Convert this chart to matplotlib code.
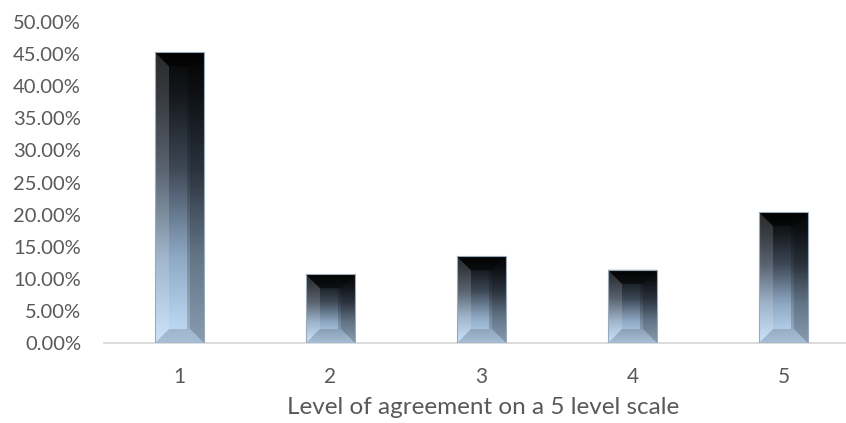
import numpy as np
import matplotlib
matplotlib.use("Agg")
import matplotlib.pyplot as plt
from matplotlib.colors import LinearSegmentedColormap
from matplotlib.patches import Rectangle, Polygon
from matplotlib.ticker import PercentFormatter

categories = ["1", "2", "3", "4", "5"]
shares = [45.3, 10.7, 13.5, 11.4, 20.4]  # percent of respondents

TEXT_COLOR = "#595959"
plt.rcParams["font.family"] = ["Lato", "DejaVu Sans"]

W, H, DPI = 846, 423, 100
fig = plt.figure(figsize=(W / DPI, H / DPI), dpi=DPI)

# axes box in pixels: left edge, bottom, right, top
left_px, right_px = 104, 846
top_px, bottom_px = 22, 343
ax = fig.add_axes([left_px / W, 1 - bottom_px / H,
                   (right_px - left_px) / W, (bottom_px - top_px) / H])

x_lo = 0.5
x_hi = x_lo + (right_px - left_px) / 151.0
y_lo, y_hi = 0, 50

px_x = (x_hi - x_lo) / (right_px - left_px)  # data units per pixel
px_y = (y_hi - y_lo) / (bottom_px - top_px)

grad_cmap = LinearSegmentedColormap.from_list(
    "bevel", [(0.0, "#c4e0fb"), (0.3, "#8ea8c2"), (0.6, "#3d4856"),
              (0.85, "#15191e"), (1.0, "#050505")])
grad = np.linspace(0, 1, 256).reshape(-1, 1)

bar_w = 49 * px_x
bev_x = 14 * px_x
bev_y = 14 * px_y

for i, v in enumerate(shares):
    xc = i + 1
    x0, x1 = xc - bar_w / 2, xc + bar_w / 2
    by = min(bev_y, v * 0.3)

    base = Rectangle((x0, 0), bar_w, v, transform=ax.transData,
                     facecolor="none", edgecolor="none")
    ax.add_patch(base)
    im = ax.imshow(grad, extent=[x0, x1, 0, v], origin="lower",
                   aspect="auto", cmap=grad_cmap, interpolation="bilinear",
                   zorder=2)
    im.set_clip_path(base)

    ix0, ix1 = x0 + bev_x, x1 - bev_x
    iy0, iy1 = by, v - by
    # bevel faces: left lit, right shaded, top dark, bottom mid
    faces = [
        ([(x0, 0), (ix0, iy0), (ix0, iy1), (x0, v)], "white", 0.15),
        ([(x1, 0), (ix1, iy0), (ix1, iy1), (x1, v)], "black", 0.3),
        ([(x0, v), (ix0, iy1), (ix1, iy1), (x1, v)], "black", 0.5),
        ([(x0, 0), (ix0, iy0), (ix1, iy0), (x1, 0)], "black", 0.15),
    ]
    for pts, col, a in faces:
        ax.add_patch(Polygon(pts, closed=True, facecolor=col, alpha=a,
                             edgecolor="none", zorder=3))
    # thin shadow strip inside the right edge of the inner panel
    ax.add_patch(Rectangle((ix1 - 3 * px_x, iy0), 3 * px_x, iy1 - iy0,
                           facecolor="black", alpha=0.18, edgecolor="none",
                           zorder=3))
    ax.add_patch(Rectangle((x0, 0), bar_w, v, facecolor="none",
                           edgecolor="#9aaabb", linewidth=0.8, zorder=4))

ax.set_xlim(x_lo, x_hi)
ax.set_ylim(y_lo, y_hi)
ax.set_xticks(range(1, len(categories) + 1))
ax.set_xticklabels(categories)
ax.set_yticks(np.arange(0, 50.1, 5))
ax.yaxis.set_major_formatter(PercentFormatter(decimals=2))

for s in ["top", "right", "left"]:
    ax.spines[s].set_visible(False)
ax.spines["bottom"].set_color("#d9d9d9")
ax.spines["bottom"].set_linewidth(1.3)
ax.spines["bottom"].set_zorder(1)

ax.tick_params(axis="both", length=0, labelsize=14.5, labelcolor=TEXT_COLOR)
ax.tick_params(axis="y", pad=16.5)
ax.tick_params(axis="x", pad=17, labelsize=15)
ax.set_xlabel("Level of agreement on a 5 level scale", fontsize=17.5,
              color=TEXT_COLOR)
ax.xaxis.set_label_coords((483 - left_px) / (right_px - left_px),
                          -(408 - bottom_px) / (bottom_px - top_px))
ax.xaxis.label.set_va("center")

fig.savefig("out.png", dpi=DPI)
